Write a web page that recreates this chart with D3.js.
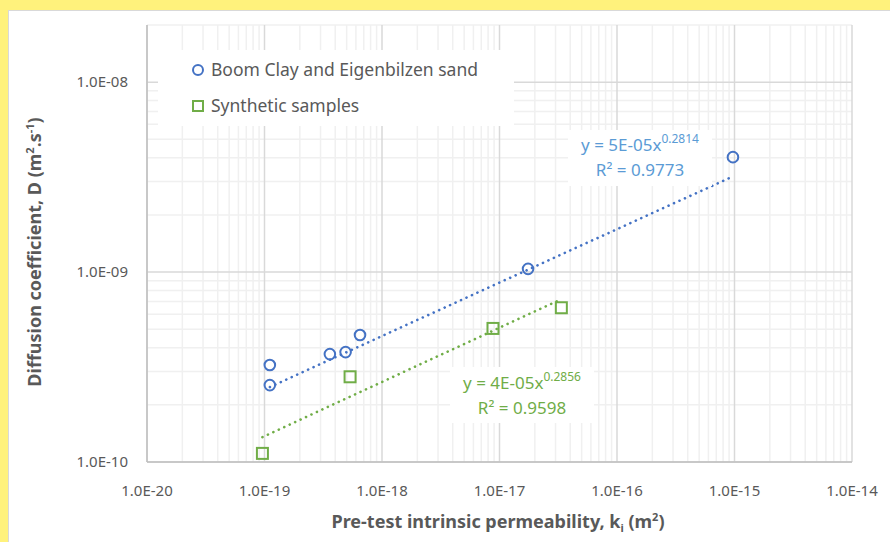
<!DOCTYPE html>
<html>
<head>
<meta charset="utf-8">
<script src="https://cdn.jsdelivr.net/npm/d3@7"></script>
<style>
  body { margin: 0; background: #fff27c; overflow: hidden; }
  svg { display: block; }
  text { font-family: "Noto Sans", sans-serif; fill: #595959; }
</style>
</head>
<body>
<div id="chart"></div>
<script>
// values
var boomK = [1.11e-19, 1.11e-19, 3.6e-19, 4.9e-19, 6.5e-19, 1.75e-17, 9.7e-16];
var boomD = [3.24e-10, 2.54e-10, 3.70e-10, 3.79e-10, 4.66e-10, 1.04e-9, 4.03e-9];
var synK = [9.6e-20, 5.35e-19, 8.8e-18, 3.36e-17];
var synD = [1.11e-10, 2.81e-10, 5.05e-10, 6.49e-10];

// power trendlines y = a * x^b
var fitA = [5.35e-5, 3.65e-5];
var fitB = [0.2814, 0.2856];
var fitText = ["y = 5E-05x", "y = 4E-05x"];
var fitExpText = ["0.2814", "0.2856"];
var fitR2 = ["R² = 0.9773", "R² = 0.9598"];

var seriesNames = ["Boom Clay and Eigenbilzen sand", "Synthetic samples"];
var xTicks = [1e-20, 1e-19, 1e-18, 1e-17, 1e-16, 1e-15, 1e-14];
var yTicks = [1e-10, 1e-9, 1e-8];

var width = 890, height = 542;
var blue = "#4472c4", green = "#70ad47";

var svg = d3.select("#chart").append("svg")
  .attr("width", width)
  .attr("height", height);

// chart area
svg.append("rect")
  .attr("x", 8.5).attr("y", 10.5)
  .attr("width", 900).attr("height", 560)
  .attr("fill", "#fff")
  .attr("stroke", "#d9d9d9");

var x = d3.scaleLog().domain([1e-20, 1e-14]).range([147, 852]);
var y = d3.scaleLog().domain([1e-10, 2e-8]).range([462, 25]);

// gridlines, minor then major
var xMinor = [], yMinor = [];
for (var e = -20; e < -14; e++) {
  for (var m = 2; m <= 9; m++) xMinor.push(m * Math.pow(10, e));
}
for (var e = -10; e < -8; e++) {
  for (var m = 2; m <= 9; m++) yMinor.push(m * Math.pow(10, e));
}
yMinor.push(2e-8);

var grid = svg.append("g");
grid.selectAll(".vminor").data(xMinor).enter().append("line")
  .attr("x1", d => x(d)).attr("x2", d => x(d))
  .attr("y1", y.range()[1]).attr("y2", y.range()[0])
  .attr("stroke", "#f0f0f0").attr("stroke-width", 1.5);
grid.selectAll(".hminor").data(yMinor).enter().append("line")
  .attr("y1", d => y(d)).attr("y2", d => y(d))
  .attr("x1", x.range()[0]).attr("x2", x.range()[1])
  .attr("stroke", "#f0f0f0").attr("stroke-width", 1.5);
grid.selectAll(".vmajor").data(xTicks).enter().append("line")
  .attr("x1", d => x(d)).attr("x2", d => x(d))
  .attr("y1", y.range()[1]).attr("y2", y.range()[0])
  .attr("stroke", "#d9d9d9").attr("stroke-width", 1.5);
grid.selectAll(".hmajor").data(yTicks).enter().append("line")
  .attr("y1", d => y(d)).attr("y2", d => y(d))
  .attr("x1", x.range()[0]).attr("x2", x.range()[1])
  .attr("stroke", "#d9d9d9").attr("stroke-width", 1.5);

// axes lines
svg.append("line")
  .attr("x1", x.range()[0]).attr("x2", x.range()[0])
  .attr("y1", y.range()[1]).attr("y2", y.range()[0])
  .attr("stroke", "#bfbfbf").attr("stroke-width", 1.5);
svg.append("line")
  .attr("x1", x.range()[0]).attr("x2", x.range()[1])
  .attr("y1", y.range()[0]).attr("y2", y.range()[0])
  .attr("stroke", "#bfbfbf").attr("stroke-width", 1.5);

// tick labels
var fmt = d => d3.format(".1e")(d).toUpperCase().replace(/E-(\d)$/, "E-0$1");
svg.selectAll(".xlab").data(xTicks).enter().append("text")
  .attr("x", d => x(d)).attr("y", 496)
  .attr("text-anchor", "middle")
  .attr("font-size", 15)
  .text(fmt);
svg.selectAll(".ylab").data(yTicks).enter().append("text")
  .attr("x", 128).attr("y", d => y(d) + 5)
  .attr("text-anchor", "end")
  .attr("font-size", 15)
  .text(fmt);

// axis titles
var xt = svg.append("text")
  .attr("x", 498).attr("y", 528)
  .attr("text-anchor", "middle")
  .attr("font-size", 18).attr("font-weight", "bold");
xt.append("tspan").text("Pre-test intrinsic permeability, k");
xt.append("tspan").attr("font-size", 11).attr("dy", 4).text("i");
xt.append("tspan").attr("dy", -4).text(" (m");
xt.append("tspan").attr("font-size", 11).attr("dy", -7).text("2");
xt.append("tspan").attr("dy", 7).text(")");

var yt = svg.append("text")
  .attr("transform", "translate(41,252) rotate(-90)")
  .attr("text-anchor", "middle")
  .attr("font-size", 18).attr("font-weight", "bold");
yt.append("tspan").text("Diffusion coefficient, D (m");
yt.append("tspan").attr("font-size", 11).attr("dy", -7).text("2");
yt.append("tspan").attr("dy", 7).text(".s");
yt.append("tspan").attr("font-size", 11).attr("dy", -7).text("-1");
yt.append("tspan").attr("dy", 7).text(")");

// trendlines
var allK = [boomK, synK];
var colors = [blue, green];
allK.forEach(function(ks, i) {
  var k0 = d3.min(ks), k1 = d3.max(ks);
  var pts = d3.range(0, 41).map(t => {
    var k = Math.pow(10, Math.log10(k0) + t / 40 * (Math.log10(k1) - Math.log10(k0)));
    return [k, fitA[i] * Math.pow(k, fitB[i])];
  });
  svg.append("path")
    .datum(pts)
    .attr("d", d3.line().x(d => x(d[0])).y(d => y(d[1])))
    .attr("fill", "none")
    .attr("stroke", colors[i])
    .attr("stroke-width", 2.6)
    .attr("stroke-linecap", "round")
    .attr("stroke-dasharray", "0.1,5.9");
});

// markers
var boom = boomK.map((k, i) => ({k: k, d: boomD[i]}));
var syn = synK.map((k, i) => ({k: k, d: synD[i]}));

svg.selectAll(".boom").data(boom).enter().append("circle")
  .attr("cx", d => x(d.k)).attr("cy", d => y(d.d))
  .attr("r", 5.3)
  .attr("fill", "none").attr("stroke", blue).attr("stroke-width", 2);
svg.selectAll(".syn").data(syn).enter().append("rect")
  .attr("x", d => x(d.k) - 5.5).attr("y", d => y(d.d) - 5.5)
  .attr("width", 11).attr("height", 11)
  .attr("fill", "none").attr("stroke", green).attr("stroke-width", 2);

// legend
var legend = svg.append("g");
legend.append("rect")
  .attr("x", 158).attr("y", 50).attr("width", 356).attr("height", 76)
  .attr("fill", "#fff");
legend.append("circle")
  .attr("cx", 198).attr("cy", 70).attr("r", 5)
  .attr("fill", "none").attr("stroke", blue).attr("stroke-width", 2);
legend.append("rect")
  .attr("x", 193).attr("y", 101).attr("width", 10).attr("height", 10)
  .attr("fill", "none").attr("stroke", green).attr("stroke-width", 2);
legend.selectAll(".ltxt").data(seriesNames).enter().append("text")
  .attr("x", 211).attr("y", (d, i) => 76 + i * 36)
  .attr("font-size", 17.5)
  .text(d => d);

// trendline labels
var labPos = [[640, 145], [522, 383]];
var labColors = ["#5b9bd5", green];
var labBox = [[568, 130, 144, 56], [450, 367, 144, 56]];
labPos.forEach(function(p, i) {
  svg.append("rect")
    .attr("x", labBox[i][0]).attr("y", labBox[i][1])
    .attr("width", labBox[i][2]).attr("height", labBox[i][3])
    .attr("fill", "#fff");
  var t = svg.append("text")
    .attr("x", p[0]).attr("y", p[1] + 6)
    .attr("text-anchor", "middle")
    .attr("font-size", 17)
    .style("fill", labColors[i]);
  t.append("tspan").text(fitText[i]);
  t.append("tspan").attr("font-size", 12).attr("dy", -8).text(fitExpText[i]);
  svg.append("text")
    .attr("x", p[0]).attr("y", p[1] + 31)
    .attr("text-anchor", "middle")
    .attr("font-size", 17)
    .style("fill", labColors[i])
    .text(fitR2[i]);
});
</script>
</body>
</html>
